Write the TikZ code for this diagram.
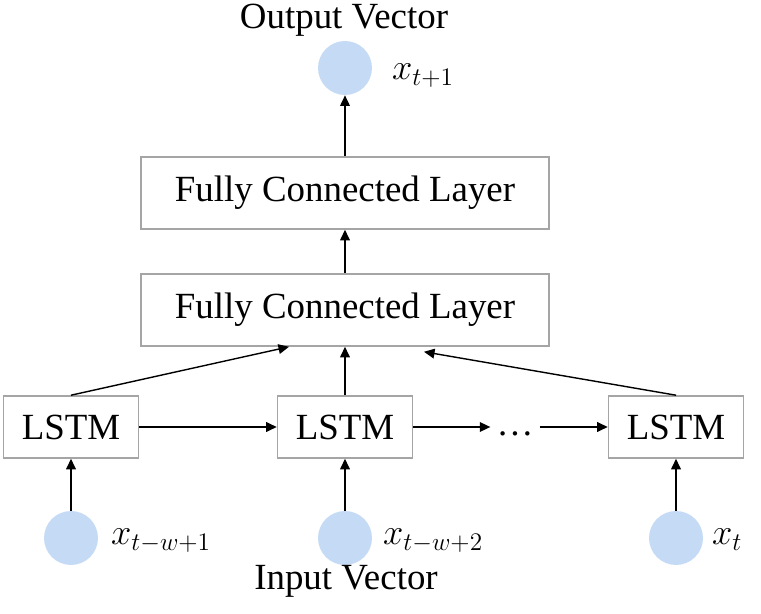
\documentclass[tikz,border=0pt]{standalone}
\usepackage{fontspec}
\setmainfont{Liberation Serif}
\usepackage{tikz}
\usetikzlibrary{arrows.meta}
\definecolor{vecblue}{RGB}{197,218,245}
\definecolor{boxgray}{RGB}{165,165,165}

\begin{document}
\begin{tikzpicture}[x=0.02cm, y=-0.02cm, font=\fontsize{21}{24}\selectfont,
  layer/.style={draw=boxgray, line width=0.9pt, minimum width=8.16cm, minimum height=1.44cm, inner sep=0pt},
  cell/.style={draw=boxgray, line width=0.9pt, minimum width=2.7cm, minimum height=1.24cm, inner sep=0pt},
  unit/.style={circle, fill=vecblue, minimum size=1.08cm, inner sep=0pt},
  flow/.style={-{Triangle[length=6pt, width=5.5pt]}, line width=0.8pt}]
  \useasboundingbox (0,0) rectangle (761,614);
  % Output
  \node[anchor=base] (outtitle) at (344,29) {Output Vector};
  \node[unit] (out) at (345,68) {};
  \node[anchor=base west] (outlab) at (386,80) {$x_{t+1}$};
  % Dense layers
  \node[layer] (fc2) at (345,193) {Fully Connected Layer};
  \node[layer] (fc1) at (345,310) {Fully Connected Layer};
  % Recurrent cells
  \node[cell] (lstm1) at (71,427) {LSTM};
  \node[cell] (lstm2) at (345,427) {LSTM};
  \node[cell] (lstm3) at (676,427) {LSTM};
  \node (dots) at (515,427) {\strut\ldots};
  % Inputs
  \node[unit] (in1) at (71,538) {};
  \node[unit] (in2) at (345,538) {};
  \node[unit] (in3) at (676,538) {};
  \node[anchor=base west] (inlab1) at (105,545) {$x_{t-w+1}$};
  \node[anchor=base west] (inlab2) at (377,545) {$x_{t-w+2}$};
  \node[anchor=base west] (inlab3) at (706,545) {$x_{t}$};
  \node[anchor=base] (intitle) at (346,590) {Input Vector};
  % Connections
  \draw[flow] (fc2.north) -- (out.south);
  \draw[flow] (fc1.north) -- (fc2.south);
  \draw[flow] (lstm1.north) -- ([xshift=-1.12cm]fc1.south);
  \draw[flow] (lstm2.north) -- (fc1.south);
  \draw[flow] (lstm3.north) -- ([xshift=1.58cm, yshift=-0.1cm]fc1.south);
  \draw[flow] (lstm1.east) -- (lstm2.west);
  \draw[flow] (lstm2.east) -- (dots.west);
  \draw[flow] (dots.east) -- (lstm3.west);
  \draw[flow] (in1.north) -- (lstm1.south);
  \draw[flow] (in2.north) -- (lstm2.south);
  \draw[flow] (in3.north) -- (lstm3.south);
\end{tikzpicture}
\end{document}
